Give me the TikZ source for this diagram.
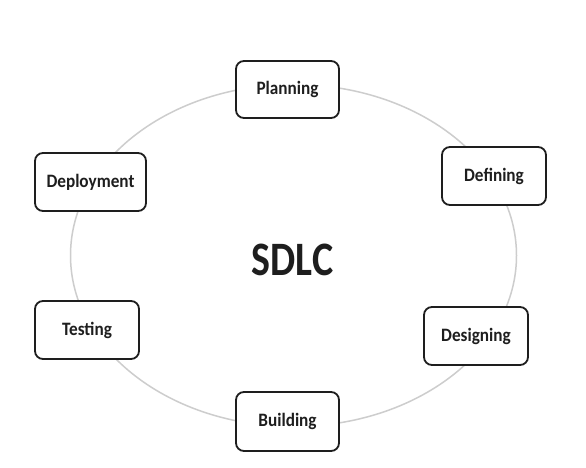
\documentclass[tikz,border=0pt]{standalone}
\usepackage{fontspec}
\usetikzlibrary{shapes.geometric}
\setmainfont{Carlito}
\definecolor{ringgray}{HTML}{CDCDCD}
\definecolor{ink}{HTML}{1E1E1E}
\begin{document}
\begin{tikzpicture}[x=1pt,y=1pt,
  phase/.style={draw=ink, line width=1.8pt, fill=white, rounded corners=8pt,
    minimum height=58pt, inner sep=0pt, text=ink,
    font=\fontsize{17.2}{19}\selectfont\bfseries},
  ring/.style={draw=ringgray, line width=1.5pt}]
\useasboundingbox (0,0) rectangle (586,468);
\fill[white] (0,0) rectangle (586,468);
\node[ring, ellipse, minimum width=446pt, minimum height=342pt, inner sep=0pt] (ring) at (293.5,212.5) {};
\node[text=ink, font=\fontsize{40}{44}\selectfont\bfseries] (sdlc) at (292.5,208.5) {\scalebox{1}[1.2]{SDLC}};
\node[phase, minimum width=103pt, minimum height=57pt] (planning) at (287.5,378.5) {\raisebox{-1.5pt}{\scalebox{1}[1.1]{Planning}}};
\node[phase, minimum width=104pt] (defining) at (494,292) {\raisebox{-1.5pt}{\scalebox{1}[1.1]{Defining}}};
\node[phase, minimum width=104pt] (designing) at (476,132) {\raisebox{-1.5pt}{\scalebox{1}[1.1]{Designing}}};
\node[phase, minimum width=103pt, minimum height=59pt] (building) at (287.5,46.5) {\raisebox{-1.5pt}{\scalebox{1}[1.1]{Building}}};
\node[phase, minimum width=104pt] (testing) at (87,138) {\raisebox{-1.5pt}{\scalebox{1}[1.1]{Testing}}};
\node[phase, minimum width=111pt] (deployment) at (90.5,286) {\raisebox{-1.5pt}{\scalebox{1}[1.1]{Deployment}}};
\end{tikzpicture}
\end{document}
